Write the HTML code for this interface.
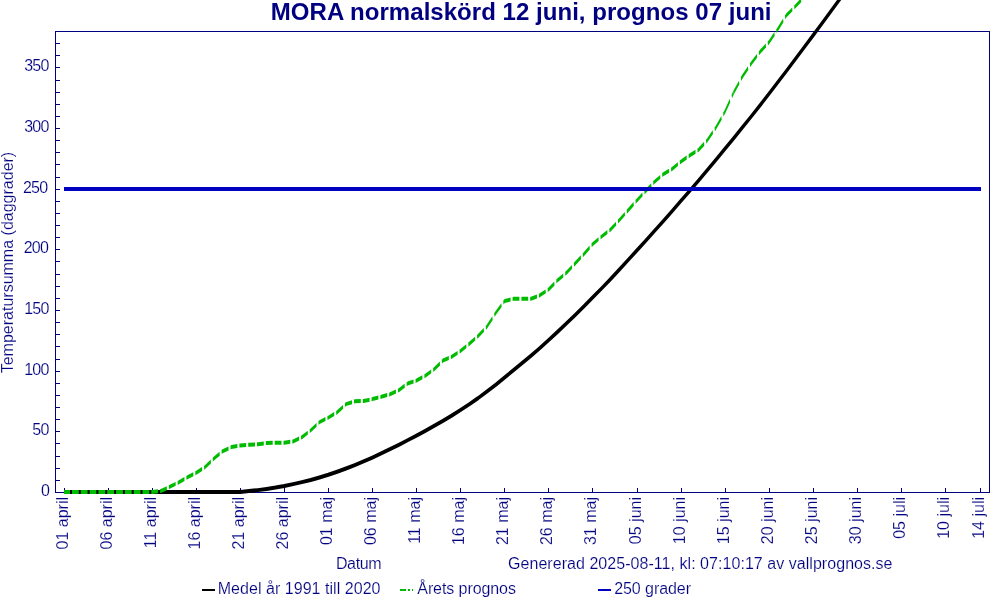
<!DOCTYPE html>
<html lang="sv"><head><meta charset="utf-8"><title>MORA normalskörd 12 juni, prognos 07 juni</title>
<style>html,body{margin:0;padding:0;background:#fff}svg{display:block}</style></head>
<body>
<svg width="990" height="600" viewBox="0 0 990 600">
<rect width="990" height="600" fill="#fff"/>
<g shape-rendering="crispEdges" stroke="#000080" stroke-width="1" fill="none">
<rect x="55.5" y="31.5" width="934" height="461"/>
<line x1="56" x2="60" y1="480.5" y2="480.5"/>
<line x1="56" x2="60" y1="468.5" y2="468.5"/>
<line x1="56" x2="60" y1="456.5" y2="456.5"/>
<line x1="56" x2="60" y1="443.5" y2="443.5"/>
<line x1="56" x2="60" y1="431.5" y2="431.5"/>
<line x1="56" x2="60" y1="419.5" y2="419.5"/>
<line x1="56" x2="60" y1="407.5" y2="407.5"/>
<line x1="56" x2="60" y1="395.5" y2="395.5"/>
<line x1="56" x2="60" y1="383.5" y2="383.5"/>
<line x1="56" x2="60" y1="371.5" y2="371.5"/>
<line x1="56" x2="60" y1="359.5" y2="359.5"/>
<line x1="56" x2="60" y1="346.5" y2="346.5"/>
<line x1="56" x2="60" y1="334.5" y2="334.5"/>
<line x1="56" x2="60" y1="322.5" y2="322.5"/>
<line x1="56" x2="60" y1="310.5" y2="310.5"/>
<line x1="56" x2="60" y1="298.5" y2="298.5"/>
<line x1="56" x2="60" y1="286.5" y2="286.5"/>
<line x1="56" x2="60" y1="274.5" y2="274.5"/>
<line x1="56" x2="60" y1="261.5" y2="261.5"/>
<line x1="56" x2="60" y1="249.5" y2="249.5"/>
<line x1="56" x2="60" y1="237.5" y2="237.5"/>
<line x1="56" x2="60" y1="225.5" y2="225.5"/>
<line x1="56" x2="60" y1="213.5" y2="213.5"/>
<line x1="56" x2="60" y1="201.5" y2="201.5"/>
<line x1="56" x2="60" y1="189.5" y2="189.5"/>
<line x1="56" x2="60" y1="177.5" y2="177.5"/>
<line x1="56" x2="60" y1="164.5" y2="164.5"/>
<line x1="56" x2="60" y1="152.5" y2="152.5"/>
<line x1="56" x2="60" y1="140.5" y2="140.5"/>
<line x1="56" x2="60" y1="128.5" y2="128.5"/>
<line x1="56" x2="60" y1="116.5" y2="116.5"/>
<line x1="56" x2="60" y1="104.5" y2="104.5"/>
<line x1="56" x2="60" y1="92.5" y2="92.5"/>
<line x1="56" x2="60" y1="80.5" y2="80.5"/>
<line x1="56" x2="60" y1="67.5" y2="67.5"/>
<line x1="56" x2="60" y1="55.5" y2="55.5"/>
<line x1="56" x2="60" y1="43.5" y2="43.5"/>
<line x1="64.5" x2="64.5" y1="488" y2="492"/>
<line x1="108.5" x2="108.5" y1="488" y2="492"/>
<line x1="152.5" x2="152.5" y1="488" y2="492"/>
<line x1="196.5" x2="196.5" y1="488" y2="492"/>
<line x1="240.5" x2="240.5" y1="488" y2="492"/>
<line x1="284.5" x2="284.5" y1="488" y2="492"/>
<line x1="328.5" x2="328.5" y1="488" y2="492"/>
<line x1="372.5" x2="372.5" y1="488" y2="492"/>
<line x1="416.5" x2="416.5" y1="488" y2="492"/>
<line x1="460.5" x2="460.5" y1="488" y2="492"/>
<line x1="504.5" x2="504.5" y1="488" y2="492"/>
<line x1="548.5" x2="548.5" y1="488" y2="492"/>
<line x1="592.5" x2="592.5" y1="488" y2="492"/>
<line x1="637.5" x2="637.5" y1="488" y2="492"/>
<line x1="681.5" x2="681.5" y1="488" y2="492"/>
<line x1="725.5" x2="725.5" y1="488" y2="492"/>
<line x1="769.5" x2="769.5" y1="488" y2="492"/>
<line x1="813.5" x2="813.5" y1="488" y2="492"/>
<line x1="857.5" x2="857.5" y1="488" y2="492"/>
<line x1="901.5" x2="901.5" y1="488" y2="492"/>
<line x1="945.5" x2="945.5" y1="488" y2="492"/>
<line x1="980.5" x2="980.5" y1="488" y2="492"/>
</g>
<g transform="scale(1 1.3333)"><polyline points="64.0,369.0 72.8,369.0 81.6,369.0 90.4,369.0 99.2,369.0 108.1,369.0 116.9,369.0 125.7,369.0 134.5,369.0 143.3,369.0 152.1,369.0 160.9,369.0 169.7,369.0 178.5,369.0 187.4,369.0 196.2,369.0 205.0,369.0 213.8,369.0 222.6,369.0 231.4,369.0 240.2,369.0 249.0,368.3 257.8,367.6 266.7,366.7 275.5,365.7 284.3,364.5 293.1,363.1 301.9,361.6 310.7,360.0 319.5,358.1 328.3,356.1 337.2,353.8 346.0,351.4 354.8,348.8 363.6,346.1 372.4,343.2 381.2,340.1 390.0,336.9 398.8,333.6 407.6,330.2 416.5,326.7 425.3,323.1 434.1,319.4 442.9,315.6 451.7,311.7 460.5,307.5 469.3,303.2 478.1,298.6 486.9,293.7 495.8,288.5 504.6,283.1 513.4,277.7 522.2,272.3 531.0,266.8 539.8,261.1 548.6,255.1 557.4,249.0 566.2,242.7 575.1,236.3 583.9,229.8 592.7,223.1 601.5,216.4 610.3,209.5 619.1,202.4 627.9,195.2 636.7,188.0 645.5,180.7 654.4,173.3 663.2,165.9 672.0,158.4 680.8,150.8 689.6,143.2 698.4,135.5 707.2,127.7 716.0,119.8 724.8,111.8 733.7,103.7 742.5,95.5 751.3,87.3 760.1,78.9 768.9,70.4 777.7,61.8 786.5,53.1 795.3,44.4 804.1,35.5 813.0,26.6 821.8,17.7 830.6,8.7 839.4,-0.3 848.2,-9.1" fill="none" stroke="#000" stroke-width="3" stroke-linejoin="round"/></g>
<g transform="scale(1 4)"><path d="M64.0 123.00L72.8 123.00M72.8 123.00L81.6 123.00M81.6 123.00L90.4 123.00M90.4 123.00L99.2 123.00M99.2 123.00L108.1 123.00M108.1 123.00L116.9 122.99M116.9 122.99L125.7 122.99M125.7 122.99L134.5 122.99M134.5 122.99L143.3 122.98M143.3 122.98L152.1 122.98M152.1 122.98L160.9 122.73M160.9 122.73L169.7 121.71M169.7 121.71L178.5 120.61M178.5 120.61L187.4 119.33M187.4 119.33L196.2 118.21M196.2 118.21L205.0 116.79M205.0 116.79L213.8 114.66M213.8 114.66L222.6 112.81M222.6 112.81L231.4 111.77M231.4 111.77L240.2 111.36M240.2 111.36L249.0 111.19M249.0 111.19L257.8 111.06M257.8 111.06L266.7 110.75M266.7 110.75L275.5 110.70M275.5 110.70L284.3 110.70M284.3 110.70L293.1 110.36M293.1 110.36L301.9 109.30M301.9 109.30L310.7 107.60M310.7 107.60L319.5 105.53M319.5 105.53L328.3 104.41M328.3 104.41L337.2 103.08M337.2 103.08L346.0 101.03M346.0 101.03L354.8 100.30M354.8 100.30L363.6 100.25M363.6 100.25L372.4 99.75M372.4 99.75L381.2 99.19M381.2 99.19L390.0 98.58M390.0 98.58L398.8 97.55M398.8 97.55L407.6 95.90M407.6 95.90L416.5 95.15M416.5 95.15L425.3 93.93M425.3 93.93L434.1 92.30M434.1 92.30L442.9 90.14M442.9 90.14L451.7 89.18M451.7 89.18L460.5 87.75M460.5 87.75L469.3 85.93M469.3 85.93L478.1 84.00M478.1 84.00L486.9 81.68M486.9 81.68L495.8 78.23M495.8 78.23L504.6 75.25M504.6 75.25L513.4 74.70M513.4 74.70L522.2 74.70M522.2 74.70L531.0 74.70M531.0 74.70L539.8 73.83M539.8 73.83L548.6 72.37M548.6 72.37L557.4 70.10M557.4 70.10L566.2 68.25M566.2 68.25L575.1 65.88M575.1 65.88L583.9 63.52M583.9 63.52L592.7 61.03M592.7 61.03L601.5 59.16M601.5 59.16L610.3 57.45M610.3 57.45L619.1 55.08M619.1 55.08L627.9 52.62M627.9 52.62L636.7 50.14M636.7 50.14L645.5 47.80M645.5 47.80L654.4 45.47M654.4 45.47L663.2 43.58M663.2 43.58L672.0 42.25M672.0 42.25L680.8 40.42M680.8 40.42L689.6 38.89M689.6 38.89L698.4 37.50M698.4 37.50L707.2 35.12M707.2 35.12L716.0 31.88M716.0 31.88L724.8 28.00M724.8 28.00L733.7 23.10M733.7 23.10L742.5 19.09M742.5 19.09L751.3 15.85M751.3 15.85L760.1 12.95M760.1 12.95L768.9 10.57M768.9 10.57L777.7 7.32M777.7 7.32L786.5 3.80M786.5 3.80L795.3 1.58M795.3 1.58L804.1 -0.73M804.1 -0.73L813.0 -3.59" fill="none" stroke="#00bc00" stroke-width="1" stroke-dasharray="6 2 2 2 2 2"/></g>
<rect x="64" y="187" width="917" height="4" fill="#0000c0" shape-rendering="crispEdges"/>
<g font-family="'Liberation Sans', Arial, sans-serif" fill="#000080" font-size="16" stroke="#fff" stroke-width="0.16" paint-order="fill stroke">
<text x="270.8" y="20.4" font-size="24" font-weight="bold" textLength="500.7" lengthAdjust="spacing" stroke="none">MORA normalskörd 12 juni, prognos 07 juni</text>
<text x="49.0" y="496" text-anchor="end" letter-spacing="-0.8">0</text>
<text x="48.5" y="435" text-anchor="end" letter-spacing="-0.8">50</text>
<text x="48.5" y="375" text-anchor="end" letter-spacing="-0.8">100</text>
<text x="48.5" y="314" text-anchor="end" letter-spacing="-0.8">150</text>
<text x="48.0" y="253" text-anchor="end" letter-spacing="-0.8">200</text>
<text x="47.3" y="193" text-anchor="end" letter-spacing="-0.8">250</text>
<text x="48.5" y="132" text-anchor="end" letter-spacing="-0.8">300</text>
<text x="48.5" y="71" text-anchor="end" letter-spacing="-0.8">350</text>
<text transform="translate(68.0 497.0) rotate(-90)" text-anchor="end">01 april</text>
<text transform="translate(112.0 497.0) rotate(-90)" text-anchor="end">06 april</text>
<text transform="translate(156.0 497.0) rotate(-90)" text-anchor="end">11 april</text>
<text transform="translate(200.0 497.0) rotate(-90)" text-anchor="end">16 april</text>
<text transform="translate(244.0 497.0) rotate(-90)" text-anchor="end">21 april</text>
<text transform="translate(288.0 497.0) rotate(-90)" text-anchor="end">26 april</text>
<text transform="translate(332.0 497.0) rotate(-90)" text-anchor="end">01 maj</text>
<text transform="translate(376.0 497.0) rotate(-90)" text-anchor="end">06 maj</text>
<text transform="translate(420.0 497.0) rotate(-90)" text-anchor="end">11 maj</text>
<text transform="translate(464.0 497.0) rotate(-90)" text-anchor="end">16 maj</text>
<text transform="translate(508.0 497.0) rotate(-90)" text-anchor="end">21 maj</text>
<text transform="translate(552.0 497.0) rotate(-90)" text-anchor="end">26 maj</text>
<text transform="translate(596.0 497.0) rotate(-90)" text-anchor="end">31 maj</text>
<text transform="translate(641.0 497.0) rotate(-90)" text-anchor="end">05 juni</text>
<text transform="translate(685.0 497.0) rotate(-90)" text-anchor="end">10 juni</text>
<text transform="translate(729.0 497.0) rotate(-90)" text-anchor="end">15 juni</text>
<text transform="translate(773.0 497.0) rotate(-90)" text-anchor="end">20 juni</text>
<text transform="translate(817.0 497.0) rotate(-90)" text-anchor="end">25 juni</text>
<text transform="translate(861.0 497.0) rotate(-90)" text-anchor="end">30 juni</text>
<text transform="translate(905.0 497.0) rotate(-90)" text-anchor="end">05 juli</text>
<text transform="translate(949.0 497.0) rotate(-90)" text-anchor="end">10 juli</text>
<text transform="translate(984.0 497.0) rotate(-90)" text-anchor="end">14 juli</text>
<text transform="translate(12.7 373.3) rotate(-90)" textLength="221.5" lengthAdjust="spacing">Temperatursumma (daggrader)</text>
<text x="335.9" y="569" textLength="45.8" lengthAdjust="spacing">Datum</text>
<text x="508" y="569" textLength="384.5" lengthAdjust="spacing">Genererad 2025-08-11, kl: 07:10:17 av vallprognos.se</text>
<text x="217.7" y="594" textLength="162.8" lengthAdjust="spacing">Medel år 1991 till 2020</text>
<text x="417.3" y="594" textLength="98.6" lengthAdjust="spacing">Årets prognos</text>
<text x="614.2" y="594" textLength="76.8" lengthAdjust="spacing">250 grader</text>
</g>
<rect x="202" y="589" width="13" height="2" fill="#000" shape-rendering="crispEdges"/>
<g fill="#00bc00" shape-rendering="crispEdges"><rect x="400" y="589" width="6" height="2"/><rect x="408" y="589" width="2" height="2"/><rect x="412" y="589" width="1" height="2"/></g>
<rect x="598" y="589" width="13" height="2" fill="#0000c0" shape-rendering="crispEdges"/>
</svg>
</body></html>
